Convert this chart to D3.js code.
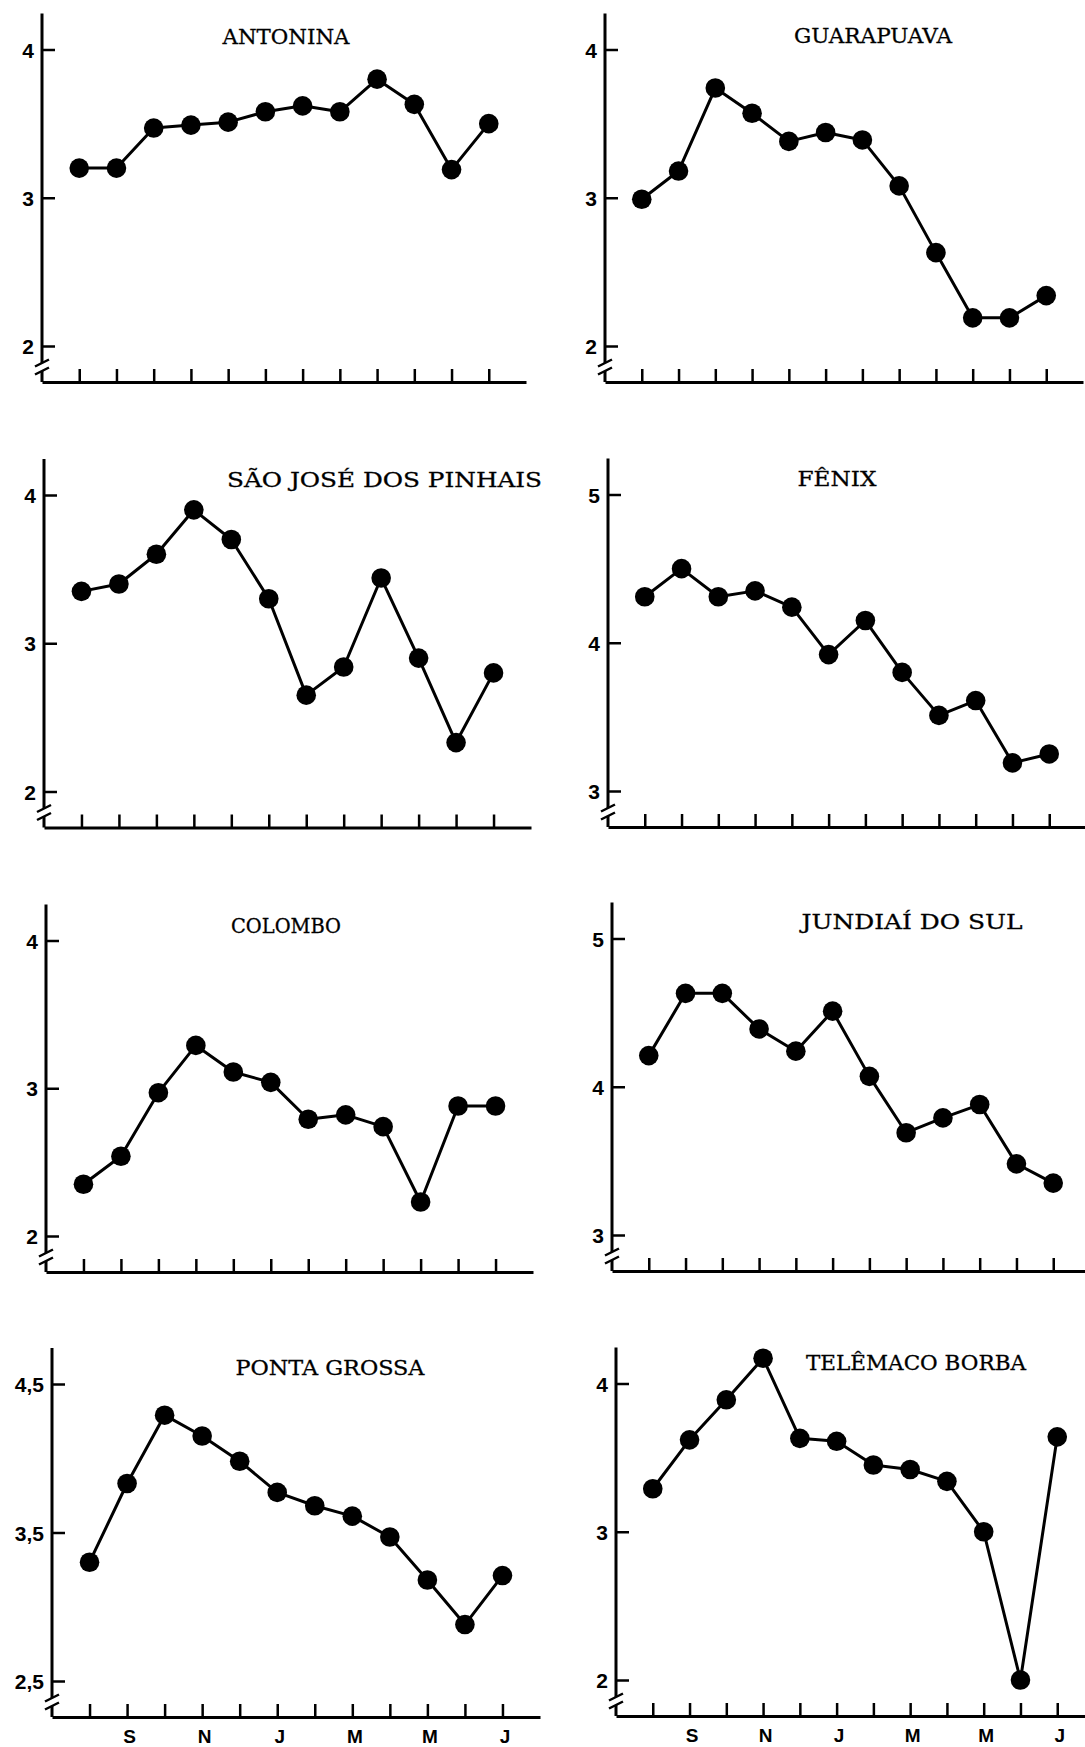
<!DOCTYPE html>
<html>
<head>
<meta charset="utf-8">
<script src="https://cdn.jsdelivr.net/npm/d3@7"></script>
<style>
  html, body { margin: 0; padding: 0; background: #fff; }
  svg { display: block; }
</style>
</head>
<body>
<svg id="chart" width="1085" height="1747"></svg>
<script>
// ---------------- DATA ----------------
const months = ["A", "S", "O", "N", "D", "J", "F", "M", "A", "M", "J", "J"];
const monthLabels = ["", "S", "", "N", "", "J", "", "M", "", "M", "", "J"];

const stations = ["ANTONINA", "GUARAPUAVA", "SÃO JOSÉ DOS PINHAIS", "FÊNIX",
                  "COLOMBO", "JUNDIAÍ DO SUL", "PONTA GROSSA", "TELÊMACO BORBA"];

const valuesAntonina    = [3.20, 3.20, 3.47, 3.49, 3.51, 3.58, 3.62, 3.58, 3.80, 3.63, 3.19, 3.50];
const valuesGuarapuava  = [2.99, 3.18, 3.74, 3.57, 3.38, 3.44, 3.39, 3.08, 2.63, 2.19, 2.19, 2.34];
const valuesSaoJose     = [3.35, 3.40, 3.60, 3.90, 3.70, 3.30, 2.65, 2.84, 3.44, 2.90, 2.33, 2.80];
const valuesFenix       = [4.31, 4.50, 4.31, 4.35, 4.24, 3.92, 4.15, 3.80, 3.51, 3.61, 3.19, 3.25];
const valuesColombo     = [2.35, 2.54, 2.97, 3.29, 3.11, 3.04, 2.79, 2.82, 2.74, 2.23, 2.88, 2.88];
const valuesJundiai     = [4.21, 4.63, 4.63, 4.39, 4.24, 4.51, 4.07, 3.69, 3.79, 3.88, 3.48, 3.35];
const valuesPontaGrossa = [3.30, 3.83, 4.29, 4.15, 3.98, 3.77, 3.68, 3.61, 3.47, 3.18, 2.88, 3.21];
const valuesTelemaco    = [3.29, 3.62, 3.89, 4.17, 3.63, 3.61, 3.45, 3.42, 3.34, 3.00, 2.00, 3.64];

const ticks2to4   = [2, 3, 4];
const ticks3to5   = [3, 4, 5];
const ticks25to45 = [2.5, 3.5, 4.5];

// ---------------- LAYOUT ----------------
const seriesList = [valuesAntonina, valuesGuarapuava, valuesSaoJose, valuesFenix,
                    valuesColombo, valuesJundiai, valuesPontaGrossa, valuesTelemaco];
const tickList = [ticks2to4, ticks2to4, ticks2to4, ticks3to5,
                  ticks2to4, ticks3to5, ticks25to45, ticks2to4];

// axis x, top tick y, bottom tick y, x-axis end, title centre x, title baseline, title width
const layout = [
  { ax: 42,  top: 49.5,   bot: 346,    xEnd: 526,  tx: 286,   ty: 44,     tw: 127 },
  { ax: 605, top: 49.5,   bot: 346,    xEnd: 1083, tx: 873,   ty: 42.5,   tw: 158 },
  { ax: 44,  top: 495,    bot: 791.5,  xEnd: 531,  tx: 384.5, ty: 487,    tw: 315 },
  { ax: 608, top: 494.5,  bot: 791,    xEnd: 1086, tx: 837,   ty: 486,    tw: 79  },
  { ax: 46,  top: 940.5,  bot: 1236,   xEnd: 533,  tx: 286,   ty: 932.5,  tw: 110 },
  { ax: 612, top: 938.5,  bot: 1235,   xEnd: 1090, tx: 912,   ty: 928.5,  tw: 221 },
  { ax: 52,  top: 1384,   bot: 1681,   xEnd: 540,  tx: 330,   ty: 1374.5, tw: 189 },
  { ax: 616, top: 1383.5, bot: 1680,   xEnd: 1094, tx: 916,   ty: 1370,   tw: 220 }
];

const svg = d3.select("#chart");
const locale = d3.formatLocale({ decimal: ",", thousands: ".", grouping: [3], currency: ["", ""] });
const fmt = locale.format(".1~f");

stations.forEach((name, k) => {
  const L = layout[k];
  const vals = seriesList[k];
  const tk = tickList[k];
  const axisY = L.bot + 36;
  const showMonths = k >= 6;

  const x = d3.scaleLinear().domain([0, months.length + 1]).range([L.ax, L.xEnd]);
  const y = d3.scaleLinear().domain([tk[0], tk[2]]).range([L.bot, L.top]);

  const g = svg.append("g");

  // Y axis ticks and labels
  const yAxis = d3.axisLeft(y).tickValues(tk).tickSizeInner(-13).tickSizeOuter(0)
    .tickPadding(8).tickFormat(fmt);
  const gy = g.append("g").attr("transform", `translate(${L.ax},0)`).call(yAxis);
  gy.select(".domain").remove();
  gy.selectAll(".tick line").attr("stroke", "#000").attr("stroke-width", 2.5);
  gy.selectAll(".tick text")
    .attr("fill", "#000")
    .attr("dy", "0.36em")
    .style("font-family", "'Liberation Sans', Arial, sans-serif")
    .style("font-weight", "bold")
    .style("font-size", "21px");

  // Y axis line with a break
  const b1 = L.bot + 17, b2 = L.bot + 25;
  g.append("path")
    .attr("d", `M${L.ax},${L.top - 36}V${b1}M${L.ax},${b2}V${axisY}`)
    .attr("stroke", "#000").attr("stroke-width", 3).attr("fill", "none");
  [b1, b2].forEach(by => {
    g.append("path")
      .attr("d", `M${L.ax - 7},${by + 3.5}L${L.ax + 7},${by - 3.5}`)
      .attr("stroke", "#000").attr("stroke-width", 2.5).attr("fill", "none");
  });

  // X axis
  const xAxis = d3.axisBottom(x).tickValues(d3.range(1, months.length + 1))
    .tickSizeInner(-13).tickSizeOuter(0).tickPadding(13)
    .tickFormat(d => showMonths ? monthLabels[d - 1] : "");
  const gx = g.append("g").attr("transform", `translate(0,${axisY})`).call(xAxis);
  gx.select(".domain").attr("stroke", "#000").attr("stroke-width", 3);
  gx.selectAll(".tick line").attr("stroke", "#000").attr("stroke-width", 2.5);
  gx.selectAll(".tick text")
    .attr("fill", "#000")
    .attr("dx", 2)
    .style("font-family", "'Liberation Sans', Arial, sans-serif")
    .style("font-weight", "bold")
    .style("font-size", "19px");

  // Line and dots
  const line = d3.line().x((d, i) => x(i + 1)).y(d => y(d));
  g.append("path").datum(vals)
    .attr("d", line).attr("fill", "none").attr("stroke", "#000")
    .attr("stroke-width", 3).attr("stroke-linejoin", "round");
  g.selectAll("circle.dot").data(vals).join("circle")
    .attr("class", "dot")
    .attr("cx", (d, i) => x(i + 1)).attr("cy", d => y(d))
    .attr("r", 9.8).attr("fill", "#000");

  // Title
  g.append("text")
    .attr("x", L.tx).attr("y", L.ty)
    .attr("text-anchor", "middle")
    .attr("textLength", L.tw).attr("lengthAdjust", "spacingAndGlyphs")
    .style("font-family", "'DejaVu Serif', 'Liberation Serif', serif")
    .style("font-size", "21px")
    .attr("fill", "#000")
    .attr("stroke", "#000").attr("stroke-width", 0.3)
    .text(name);
});
</script>
</body>
</html>
